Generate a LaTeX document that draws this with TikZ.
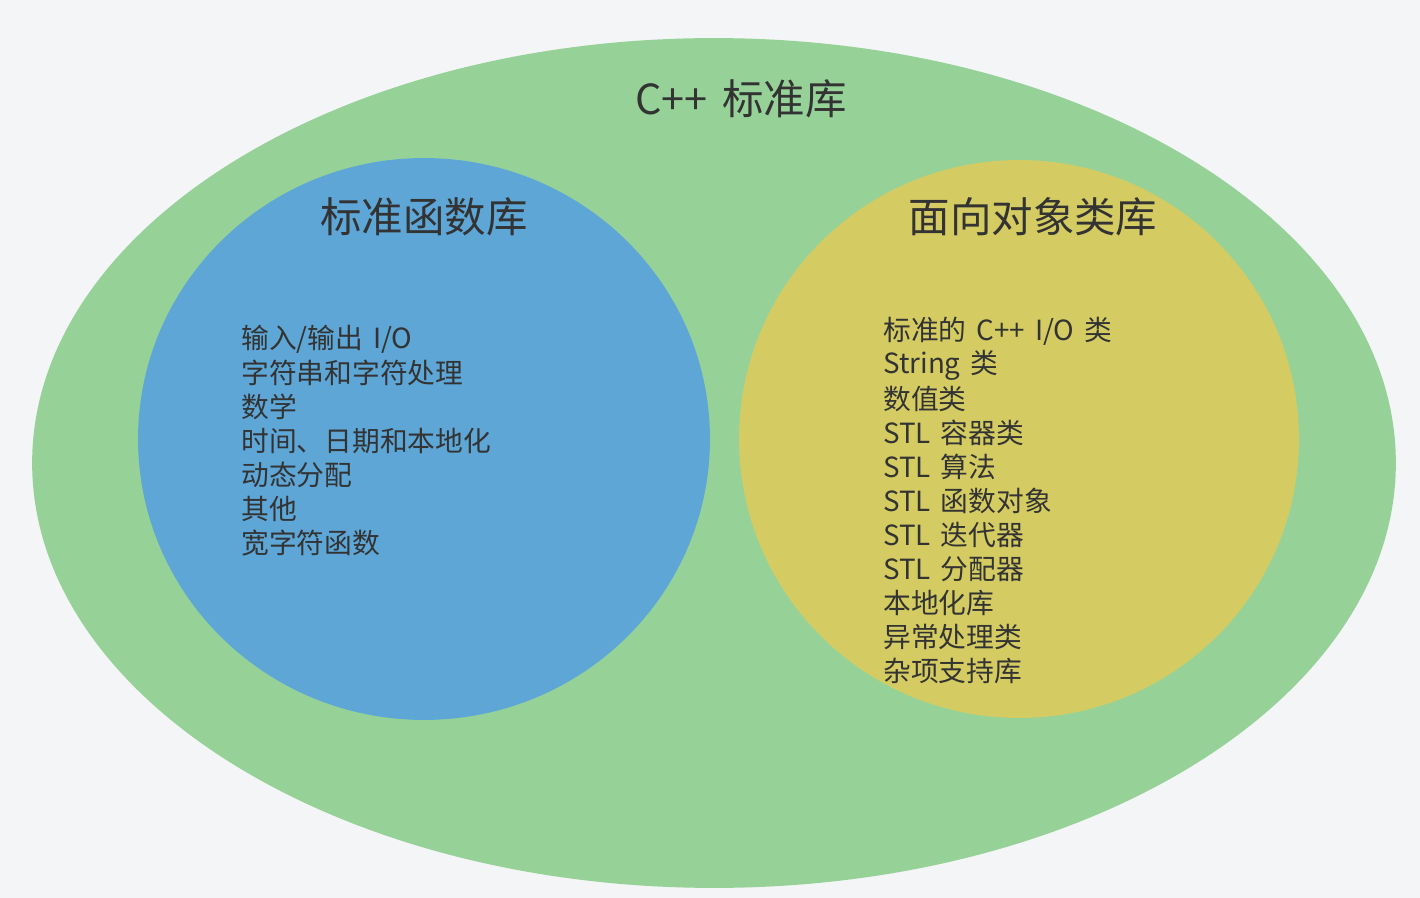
\documentclass[tikz,border=0pt]{standalone}
\usepackage{fontspec}
\setmainfont[WordSpace=1.6]{Noto Sans CJK SC}
\usepackage{xcolor}
\usepackage{tikz}
\definecolor{pagegray}{RGB}{244,245,247}
\definecolor{libgreen}{RGB}{150,210,152}
\definecolor{funcblue}{RGB}{93,166,214}
\definecolor{classyellow}{RGB}{212,204,98}
\definecolor{inkgray}{RGB}{51,51,51}

\begin{document}
\begin{tikzpicture}[
  x=0.02cm, y=-0.02cm,
  % ── region styles ────────────────────────────────────────────────────────
  region/.style={draw=none},
  % ── text styles ──────────────────────────────────────────────────────────
  heading/.style={
    text=inkgray, inner sep=0pt,
    font=\fontsize{23.6}{28}\selectfont
  },
  item/.style={
    text=inkgray, inner sep=0pt, anchor=west,
    font=\fontsize{15.8}{19}\selectfont
  },
]

% ── Page background ─────────────────────────────────────────────────────────
\fill[pagegray] (0,0) rectangle (1420,898);
\useasboundingbox (0,0) rectangle (1420,898);

% ── Regions ─────────────────────────────────────────────────────────────────
\fill[region, libgreen]    (714,463)  ellipse [x radius=13.64cm, y radius=8.50cm];
\fill[region, funcblue]    (424,439)  ellipse [x radius=5.72cm,  y radius=5.62cm];
\fill[region, classyellow] (1019,439) ellipse [x radius=5.60cm,  y radius=5.58cm];

% ── Headings ────────────────────────────────────────────────────────────────
\node[heading] (stdlib)  at (741,99)  {C++ 标准库};
\node[heading] (funclib) at (424,217) {标准函数库};
\node[heading] (oolib)   at (1033,217) {面向对象类库};

% ── Function library items ──────────────────────────────────────────────────
\foreach [count=\i] \txt in {输入/输出 I/O, 字符串和字符处理, 数学,
    时间、日期和本地化, 动态分配, 其他, 宽字符函数}{
  \node[item] (fn\i) at (241, 339+34*\i-34) {\txt};
}

% ── Class library items ─────────────────────────────────────────────────────
\foreach [count=\i] \txt in {标准的 C++ I/O 类, String 类, 数值类, STL 容器类,
    STL 算法, STL 函数对象, STL 迭代器, STL 分配器, 本地化库, 异常处理类,
    杂项支持库}{
  \node[item] (cls\i) at (883, 331+34*\i-34) {\txt};
}

\end{tikzpicture}
\end{document}
